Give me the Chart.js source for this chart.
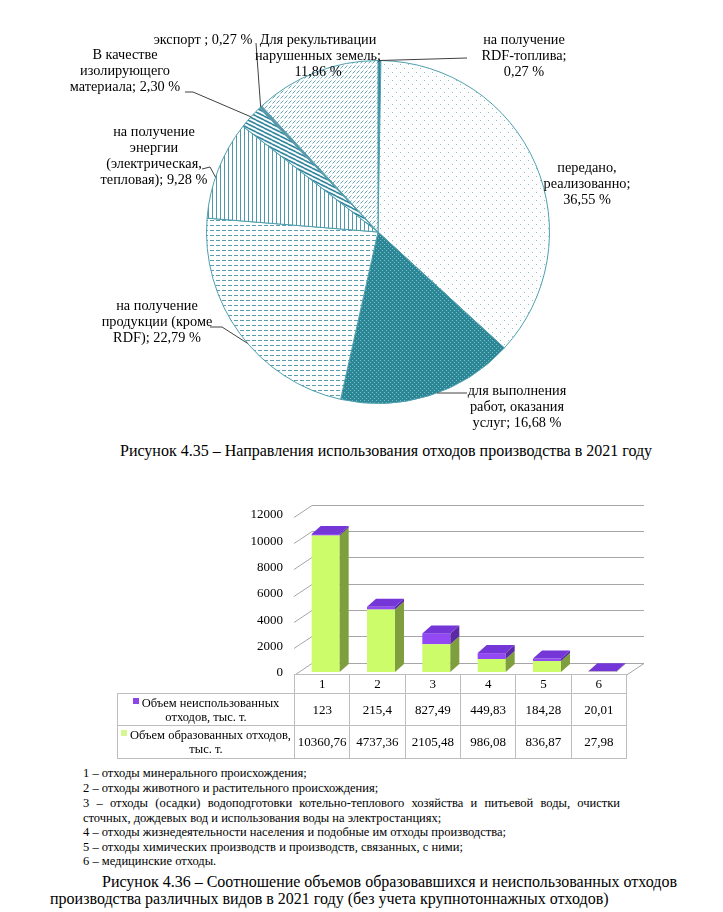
<!DOCTYPE html>
<html>
<head>
<meta charset="utf-8">
<script src="https://cdn.jsdelivr.net/npm/chart.js@4"></script>
<style>
  body { margin: 0; background: #fff; }
  #page { position: relative; width: 723px; height: 912px; background: #fff; font-family: "Liberation Serif", "Times New Roman", serif; color: #000; overflow: hidden; }
  canvas { position: absolute; }
  .cap { position: absolute; font-size: 16px; white-space: nowrap; }
  .leg { position: absolute; left: 83px; font-size: 12.5px; white-space: nowrap; }
  #tbl { position: absolute; left: 117px; top: 674px; border-collapse: collapse; table-layout: fixed; font-size: 13px; }
  #tbl td { border: 1px solid #bdbdbd; text-align: center; padding: 0; line-height: 14px; white-space: nowrap; overflow: hidden; }
  #tbl td.blank { border: none; }
  #tbl td.name { font-size: 12.5px; }
  .key { display: inline-block; width: 6px; height: 6px; margin-right: 3px; vertical-align: 3px; }
</style>
</head>
<body>
<div id="page">
  <canvas id="pie" width="723" height="440" style="left:0;top:0"></canvas>
  <div class="cap" style="left:120px;top:442px">Рисунок 4.35 – Направления использования отходов производства в 2021 году</div>

  <canvas id="bars" width="723" height="190" style="left:0;top:490px"></canvas>
  <table id="tbl"></table>

  <div class="leg" style="top:766px">1 – отходы минерального происхождения;</div>
  <div class="leg" style="top:781px">2 – отходы животного и растительного происхождения;</div>
  <div class="leg" style="top:796px;width:537px;text-align:justify;text-align-last:justify">3 – отходы (осадки) водоподготовки котельно-теплового хозяйства и питьевой воды, очистки</div>
  <div class="leg" style="top:811px">сточных, дождевых вод и использования воды на электростанциях;</div>
  <div class="leg" style="top:825px">4 – отходы жизнедеятельности населения и подобные им отходы производства;</div>
  <div class="leg" style="top:840px">5 – отходы химических производств и производств, связанных, с ними;</div>
  <div class="leg" style="top:854px">6 – медицинские отходы.</div>

  <div class="cap" style="left:102px;top:873px">Рисунок 4.36 – Соотношение объемов образовавшихся и неиспользованных отходов</div>
  <div class="cap" style="left:50px;top:890px">производства различных видов в 2021 году (без учета крупнотоннажных отходов)</div>
</div>

<script>
// ---- данные: круговая диаграмма ----
const pieValues = [0.27, 36.55, 16.68, 22.79, 9.28, 2.30, 0.27, 11.86];
const pieNames = [
  ['на получение', 'RDF-топлива;', '{v}'],
  ['передано,', 'реализованно;', '{v}'],
  ['для выполнения', 'работ, оказания', 'услуг; {v}'],
  ['на получение', 'продукции (кроме', 'RDF); {v}'],
  ['на получение', 'энергии', '(электрическая,', 'тепловая); {v}'],
  ['В качестве', 'изолирующего', 'материала; {v}'],
  ['экспорт ; {v}'],
  ['Для рекультивации', 'нарушенных земель;', '{v}']
];

// ---- данные: столбцы ----
const barCats = ['1', '2', '3', '4', '5', '6'];
const formedSeries = [10360.76, 4737.36, 2105.48, 986.08, 836.87, 27.98];
const unusedSeries = [123, 215.4, 827.49, 449.83, 184.28, 20.01];
const formedName = ['Объем образованных отходов,', 'тыс. т.'];
const unusedName = ['Объем неиспользованных', 'отходов, тыс. т.'];
const yTicks = [0, 2000, 4000, 6000, 8000, 10000, 12000];

const TEAL = '#31859c';

function fmtPct(v) { return v.toFixed(2).replace('.', ',') + ' %'; }
function fmtNum(v) { return String(v).replace('.', ','); }

// узоры заливки
function makePattern(w, h, draw) {
  const c = document.createElement('canvas');
  c.width = w; c.height = h;
  const g = c.getContext('2d');
  draw(g);
  return g.createPattern(c, 'repeat');
}

const patSparseDots = makePattern(8, 8, g => {
  g.fillStyle = '#fff'; g.fillRect(0, 0, 8, 8);
  g.fillStyle = 'rgba(49,133,156,0.55)';
  g.fillRect(0, 0, 1, 1); g.fillRect(4, 4, 1, 1);
});
const patDarkDots = makePattern(4, 4, g => {
  g.fillStyle = '#2b8796'; g.fillRect(0, 0, 4, 4);
  g.fillStyle = 'rgba(190,230,235,0.55)';
  g.fillRect(0, 0, 1, 1); g.fillRect(2, 2, 1, 1);
});
const patDashes = makePattern(6, 5, g => {
  g.fillStyle = '#fff'; g.fillRect(0, 0, 6, 5);
  g.fillStyle = 'rgba(49,133,156,0.8)';
  g.fillRect(0, 0, 4, 1);
});
const patVLines = makePattern(4, 4, g => {
  g.fillStyle = '#fff'; g.fillRect(0, 0, 4, 4);
  g.fillStyle = 'rgba(49,133,156,0.85)';
  g.fillRect(0, 0, 1, 4);
});
const patWide = makePattern(8, 4, g => {
  g.fillStyle = '#fff'; g.fillRect(0, 0, 8, 4);
  g.strokeStyle = TEAL; g.lineWidth = 1.6;
  [-4, 0, 4].forEach(o => { g.beginPath(); g.moveTo(0, o); g.lineTo(8, o + 4); g.stroke(); });
});
const patHatch = makePattern(4, 5, g => {
  g.fillStyle = '#fff'; g.fillRect(0, 0, 4, 5);
  g.strokeStyle = 'rgba(49,133,156,0.75)'; g.lineWidth = 1;
  g.beginPath(); g.moveTo(0.5, 3.5); g.lineTo(3.5, 0.5); g.stroke();
});

const pieFills = [TEAL, patSparseDots, patDarkDots, patDashes, patVLines, patWide, '#5f93a8', patHatch];

// положение подписей (центр первой строки) и выносок
const pieLabelPos = [
  { x: 524, y: 40, from: [[467, 58]], t: 0.5 },
  { x: 587, y: 168 },
  { x: 517, y: 391, from: [[467, 393]], t: 0.455 },
  { x: 157, y: 306, from: [[210, 327], [222, 327]], t: 0.45 },
  { x: 154, y: 132, from: [[202, 169], [210, 167]], t: 0.42 },
  { x: 125, y: 55, from: [[185, 92], [193, 92]], t: 0.5 },
  { x: 203, y: 40, from: [[256, 43]], t: 0.5 },
  { x: 318, y: 40 }
];

const pieLabelsPlugin = {
  id: 'pieLabels',
  afterDraw(chart) {
    const ctx = chart.ctx;
    const arcs = chart.getDatasetMeta(0).data;
    ctx.save();
    ctx.font = '14.3px "Liberation Serif"';
    ctx.textAlign = 'center';
    ctx.textBaseline = 'middle';
    pieNames.forEach((lines, i) => {
      const pos = pieLabelPos[i];
      const arc = arcs[i];
      if (pos.from) {
        const a = arc.startAngle + pos.t * (arc.endAngle - arc.startAngle);
        const ax = arc.x + arc.outerRadius * Math.cos(a);
        const ay = arc.y + arc.outerRadius * Math.sin(a);
        ctx.strokeStyle = '#404040';
        ctx.lineWidth = 1;
        ctx.beginPath();
        ctx.moveTo(pos.from[0][0], pos.from[0][1]);
        pos.from.slice(1).forEach(p => ctx.lineTo(p[0], p[1]));
        ctx.lineTo(ax, ay);
        ctx.stroke();
      }
      ctx.fillStyle = '#000';
      lines.forEach((ln, k) => {
        ctx.fillText(ln.replace('{v}', fmtPct(pieValues[i])), pos.x, pos.y + k * 16);
      });
    });
    ctx.restore();
  }
};

new Chart(document.getElementById('pie'), {
  type: 'pie',
  data: {
    labels: pieNames.map(n => n.join(' ')),
    datasets: [{
      data: pieValues,
      backgroundColor: pieFills,
      borderColor: '#4f9fae',
      borderWidth: 1,
      hoverOffset: 0
    }]
  },
  options: {
    responsive: false,
    animation: false,
    layout: { padding: { left: 206, right: 173, top: 60, bottom: 36 } },
    plugins: { legend: { display: false }, tooltip: { enabled: false } }
  },
  plugins: [pieLabelsPlugin]
});

// ---- 3D-столбцы ----
const FLOOR = { dx: 18, dy: -12 };
const BAR3D = { dx: 9, dy: -8 };
const FRONT_SHIFT = { dx: -4, dy: 2.5 };

function poly(ctx, pts, fill) {
  ctx.beginPath();
  ctx.moveTo(pts[0][0], pts[0][1]);
  pts.slice(1).forEach(p => ctx.lineTo(p[0], p[1]));
  ctx.closePath();
  ctx.fillStyle = fill;
  ctx.fill();
}

const bar3dPlugin = {
  id: 'bar3d',
  beforeDatasetsDraw(chart) {
    const ctx = chart.ctx;
    const y = chart.scales.y;
    const area = chart.chartArea;
    const x0 = area.left + FRONT_SHIFT.dx;
    const x1 = area.right + FRONT_SHIFT.dx;
    ctx.save();
    ctx.strokeStyle = '#a6a6a6';
    ctx.lineWidth = 1;
    yTicks.forEach(v => {
      const py = Math.round(y.getPixelForValue(v) + FRONT_SHIFT.dy) + 0.5;
      ctx.beginPath();
      ctx.moveTo(x0, py);
      ctx.lineTo(x0 + FLOOR.dx, py + FLOOR.dy);
      ctx.lineTo(x1 + FLOOR.dx, py + FLOOR.dy);
      ctx.stroke();
    });
    const fy = Math.round(y.getPixelForValue(0) + FRONT_SHIFT.dy) + 0.5;
    ctx.beginPath();
    ctx.moveTo(x1, fy);
    ctx.lineTo(x1 + FLOOR.dx, fy + FLOOR.dy);
    ctx.stroke();
    ctx.fillStyle = '#000';
    ctx.font = '13px "Liberation Serif"';
    ctx.textAlign = 'right';
    ctx.textBaseline = 'middle';
    yTicks.forEach(v => {
      ctx.fillText(String(v), x0 - 11, y.getPixelForValue(v) + 1);
    });
    ctx.restore();
  },
  afterDatasetsDraw(chart) {
    const ctx = chart.ctx;
    const m0 = chart.getDatasetMeta(0).data;
    const m1 = chart.getDatasetMeta(1).data;
    ctx.save();
    [[m0, '#7f9e3e'], [m1, '#5b2aa3']].forEach(([bars, side]) => {
      bars.forEach(b => {
        const r = b.x + b.width / 2;
        poly(ctx, [[r, b.y], [r + BAR3D.dx, b.y + BAR3D.dy], [r + BAR3D.dx, b.base + BAR3D.dy], [r, b.base]], side);
      });
    });
    m1.forEach(b => {
      const l = b.x - b.width / 2, r = b.x + b.width / 2;
      poly(ctx, [[l, b.y], [l + BAR3D.dx, b.y + BAR3D.dy], [r + BAR3D.dx, b.y + BAR3D.dy], [r, b.y]], '#7436d6');
    });
    ctx.restore();
  }
};

new Chart(document.getElementById('bars'), {
  type: 'bar',
  data: {
    labels: barCats,
    datasets: [
      { label: formedName.join(' '), data: formedSeries, backgroundColor: '#ccfc6a', borderWidth: 0 },
      { label: unusedName.join(' '), data: unusedSeries, backgroundColor: '#9248f2', borderWidth: 0 }
    ]
  },
  options: {
    responsive: false,
    animation: false,
    categoryPercentage: 1,
    barPercentage: 0.506,
    layout: { padding: { left: 298, right: 93, top: 24, bottom: 8 } },
    scales: {
      x: { stacked: true, display: false },
      y: { stacked: true, display: false, min: 0, max: 12000 }
    },
    plugins: { legend: { display: false }, tooltip: { enabled: false } }
  },
  plugins: [bar3dPlugin]
});

// таблица данных под диаграммой
const tbl = document.getElementById('tbl');
const colW = 332 / barCats.length;
let html = '<colgroup><col style="width:177px">' + barCats.map(() => `<col style="width:${colW}px">`).join('') + '</colgroup>';
html += '<tr style="height:19px"><td class="blank"></td>' + barCats.map(c => `<td>${c}</td>`).join('') + '</tr>';
html += `<tr style="height:32px"><td class="name"><span class="key" style="background:#8b45e8"></span>${unusedName[0]}<br>${unusedName[1]}</td>` +
  unusedSeries.map(v => `<td>${fmtNum(v)}</td>`).join('') + '</tr>';
html += `<tr style="height:33px"><td class="name"><span class="key" style="background:#d4f78f"></span>${formedName[0]}<br>${formedName[1]}</td>` +
  formedSeries.map(v => `<td>${fmtNum(v)}</td>`).join('') + '</tr>';
tbl.innerHTML = html;
</script>
</body>
</html>
